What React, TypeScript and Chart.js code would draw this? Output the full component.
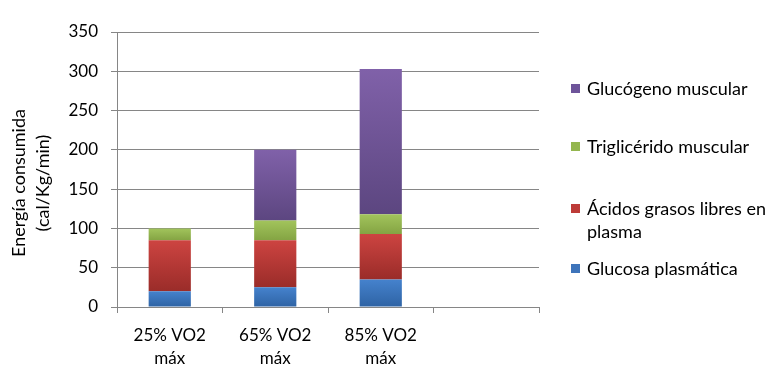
import React, { useEffect, useRef } from "react";
import { Chart, registerables } from "chart.js";

Chart.register(...registerables);

const categories: (string | string[])[] = [
  ["25% VO2", "máx"],
  ["65% VO2", "máx"],
  ["85% VO2", "máx"],
  [""],
];

const seriesNames = [
  "Glucosa plasmática",
  "Ácidos grasos libres en plasma",
  "Triglicérido muscular",
  "Glucógeno muscular",
];

const glucosa = [20, 25, 35];
const acidos = [65, 60, 58];
const trigliceridos = [15, 25, 25];
const glucogeno = [0, 90, 185];

const yTicks = [0, 50, 100, 150, 200, 250, 300, 350];
const yTitle = ["Energía consumida", "(cal/Kg/min)"];

const seriesData = [glucosa, acidos, trigliceridos, glucogeno];
const lightColors = ["#4582CD", "#CD4441", "#A2C45C", "#8061A9"];
const darkColors = ["#2E63A4", "#9A2C29", "#84A443", "#5C4680"];
const legendColors = ["#3E74BA", "#BD3B38", "#94B64F", "#6E549A"];

const FONT = "Lato, 'Open Sans', sans-serif";

export default function App() {
  const canvasRef = useRef<HTMLCanvasElement | null>(null);

  useEffect(() => {
    document.body.style.margin = "0";
    const canvas = canvasRef.current;
    if (!canvas) return;

    const makeBg = (dsIndex: number) => (ctx: any) => {
      const chart = ctx.chart;
      const y = chart.scales && chart.scales.y;
      const idx = ctx.dataIndex;
      if (!y || idx == null || ctx.type !== "data") return lightColors[dsIndex];
      let base = 0;
      for (let i = 0; i < dsIndex; i++) base += seriesData[i][idx] || 0;
      const top = base + (seriesData[dsIndex][idx] || 0);
      const y0 = y.getPixelForValue(top);
      const y1 = y.getPixelForValue(base);
      if (!isFinite(y0) || !isFinite(y1) || y0 === y1) return lightColors[dsIndex];
      const g = chart.ctx.createLinearGradient(0, y0, 0, y1);
      g.addColorStop(0, lightColors[dsIndex]);
      g.addColorStop(1, darkColors[dsIndex]);
      return g;
    };

    const yTitlePlugin = {
      id: "yTitle",
      afterDraw(chart: any) {
        const c = chart.ctx;
        c.save();
        c.fillStyle = "#000";
        c.font = `18px ${FONT}`;
        c.textAlign = "center";
        c.textBaseline = "middle";
        const xs = [19, 43];
        yTitle.forEach((t, i) => {
          c.save();
          c.translate(xs[i], 183);
          c.rotate(-Math.PI / 2);
          c.fillText(t, 0, 0);
          c.restore();
        });
        c.restore();
      },
    };

    const chart = new Chart(canvas, {
      type: "bar",
      data: {
        labels: categories as any,
        datasets: seriesNames.map((name, i) => ({
          label: name,
          data: seriesData[i],
          backgroundColor: makeBg(i) as any,
          borderWidth: 0,
          categoryPercentage: 1,
          barPercentage: 0.4,
        })),
      },
      options: {
        animation: false,
        responsive: false,
        maintainAspectRatio: false,
        layout: { padding: { top: 32, right: 244, left: 0, bottom: 0 } },
        plugins: {
          legend: { display: false },
          tooltip: { enabled: false },
          title: { display: false },
        },
        scales: {
          x: {
            stacked: true,
            offset: true,
            afterFit: (s: any) => {
              s.height = 77;
            },
            grid: {
              display: true,
              offset: true,
              drawOnChartArea: false,
              drawTicks: true,
              tickLength: 6,
              color: "#868686",
            },
            border: { display: true, color: "#868686" },
            ticks: {
              color: "#000",
              font: { family: FONT, size: 17, lineHeight: 1.35 },
              padding: 11,
              maxRotation: 0,
              autoSkip: false,
            },
          },
          y: {
            stacked: true,
            min: 0,
            max: 350,
            afterFit: (s: any) => {
              s.width = 117;
            },
            afterBuildTicks: (s: any) => {
              s.ticks = yTicks.map((v) => ({ value: v }));
            },
            grid: {
              color: "#868686",
              drawTicks: true,
              tickLength: 6,
            },
            border: { display: true, color: "#868686" },
            ticks: {
              color: "#000",
              font: { family: FONT, size: 17 },
              padding: 13,
            },
          },
        },
      },
      plugins: [yTitlePlugin],
    });

    return () => chart.destroy();
  }, []);

  const legendItems = [
    { i: 3, top: 88 },
    { i: 2, top: 146 },
    { i: 1, top: 208 },
    { i: 0, top: 268 },
  ];

  return (
    <div style={{ position: "relative", width: 783, height: 384, background: "#fff" }}>
      <canvas ref={canvasRef} width={783} height={384} style={{ display: "block" }} />
      {legendItems.map(({ i, top }) => (
        <div key={i}>
          <div
            style={{
              position: "absolute",
              left: 571,
              top: top - 4.5,
              width: 9,
              height: 9,
              background: legendColors[i],
            }}
          />
          <div
            style={{
              position: "absolute",
              left: 587,
              top: top - 11.5,
              width: 194,
              fontFamily: FONT,
              fontSize: 18,
              lineHeight: "23px",
              color: "#000",
              whiteSpace: "normal",
            }}
          >
            {seriesNames[i]}
          </div>
        </div>
      ))}
    </div>
  );
}
